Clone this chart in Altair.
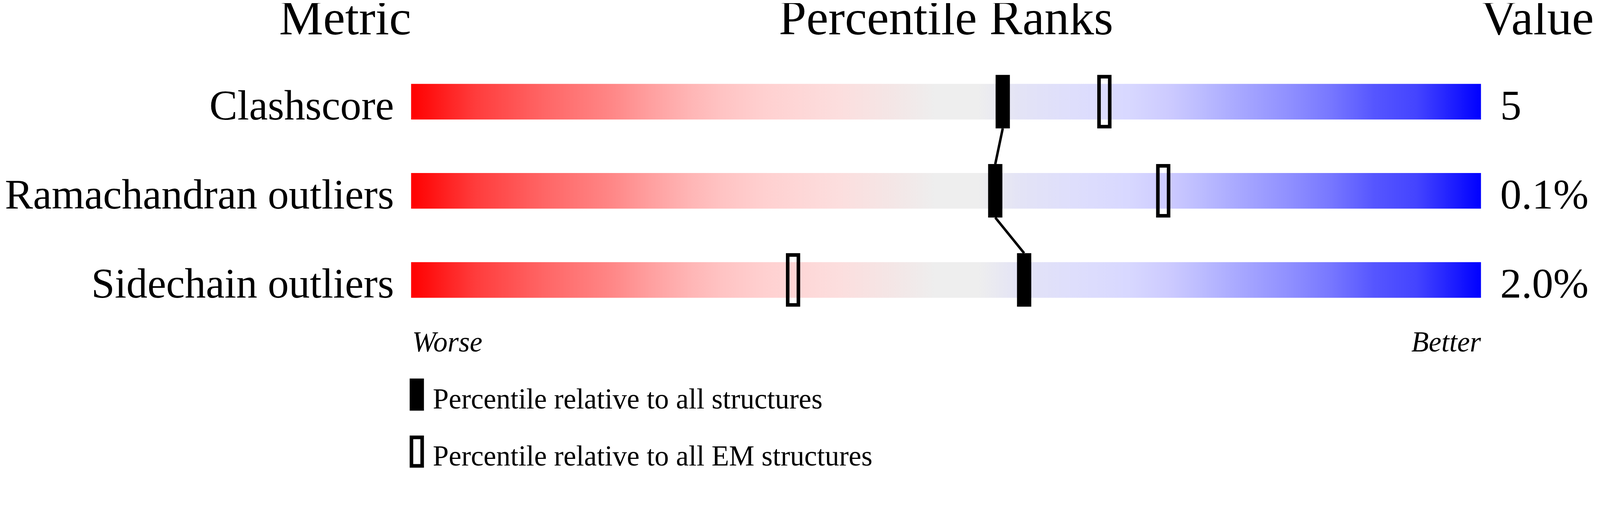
import altair as alt
import pandas as pd

# ---- data ----
metrics = ["Clashscore", "Ramachandran outliers", "Sidechain outliers"]
values = ["5", "0.1%", "2.0%"]
pct_all = [55.3, 54.6, 57.3]      # percentile relative to all structures
pct_em = [64.8, 70.3, 35.7]       # percentile relative to all EM structures
headers = ["Metric", "Percentile Ranks", "Value"]
scale_ends = ["Worse", "Better"]
legend_labels = ["Percentile relative to all structures",
                 "Percentile relative to all EM structures"]

# slider gradient (worse -> better)
grad_offsets = [0.0, 0.06, 0.125, 0.19, 0.225, 0.26, 0.29, 0.33, 0.40, 0.45, 0.49,
                0.53, 0.57, 0.62, 0.67, 0.71, 0.74, 0.77, 0.82, 0.86, 0.90, 0.94, 1.0]
grad_colors = ["#ff0000", "#ff3c3c", "#ff6666", "#ff8888", "#ffa0a0", "#ffb5b5",
               "#ffc3c3", "#ffd0d0", "#fcdede", "#f4e6e6", "#eeeeee", "#eeeeee",
               "#e3e3f6", "#dedefc", "#d8d8ff", "#cccaff", "#bbbbff", "#aaaaff",
               "#9090ff", "#7777ff", "#5656ff", "#4444ff", "#0000ff"]

FONT = "Liberation Serif"

rows = list(range(len(metrics)))
df = pd.DataFrame({"metric": metrics, "value": values, "row": rows,
                   "all": pct_all, "em": pct_em})
df["lo"] = 0
df["hi"] = 100
df["top"] = df["row"] - 0.2
df["bot"] = df["row"] + 0.2

seg = pd.DataFrame({"xa": pct_all[:-1], "xb": pct_all[1:],
                    "ya": [r + 0.3 for r in rows[:-1]],
                    "yb": [r - 0.3 for r in rows[1:]]})

H = 1235
xs = alt.Scale(domain=[0, 100], nice=False, zero=False)
ys = alt.Scale(domain=[-0.87, 4.07], reverse=True, nice=False, zero=False)

gradient = alt.Gradient(
    gradient="linear", x1=0, x2=1, y1=0, y2=0,
    stops=[alt.GradientStop(offset=o, color=c) for o, c in zip(grad_offsets, grad_colors)],
)

base = alt.Chart(df)
bars = base.mark_bar(color=gradient, strokeWidth=0).encode(
    x=alt.X("lo:Q", scale=xs, axis=None), x2="hi:Q",
    y=alt.Y("top:Q", scale=ys, axis=None), y2="bot:Q")
links = alt.Chart(seg).mark_rule(color="black", strokeWidth=7).encode(
    x=alt.X("xa:Q", scale=xs, axis=None), x2="xb:Q",
    y=alt.Y("ya:Q", scale=ys, axis=None), y2="yb:Q")
tick_all = base.mark_tick(orient="vertical", thickness=40, size=150,
                          color="black", opacity=1).encode(
    x=alt.X("all:Q", scale=xs, axis=None), y=alt.Y("row:Q", scale=ys, axis=None))
tick_em = base.mark_tick(orient="vertical", thickness=30, size=140, filled=False,
                         color="black", strokeWidth=10, opacity=1).encode(
    x=alt.X("em:Q", scale=xs, axis=None), y=alt.Y("row:Q", scale=ys, axis=None))
labels = base.mark_text(align="right", baseline="alphabetic", font=FONT,
                        fontSize=118, color="black").encode(
    x=alt.value(-48), y=alt.Y("bot:Q", scale=ys, axis=None), text="metric:N")
vals = base.mark_text(align="left", baseline="alphabetic", font=FONT,
                      fontSize=119, color="black").encode(
    x=alt.value(3054), y=alt.Y("bot:Q", scale=ys, axis=None), text="value:N")

def label(text, x, y, align, size, style="normal"):
    return alt.Chart(pd.DataFrame({"t": [text]})).mark_text(
        align=align, baseline="alphabetic", font=FONT, fontSize=size,
        fontStyle=style, color="black",
    ).encode(x=alt.value(x), y=alt.value(y), text="t:N")

head_metric = label(headers[0], -185, 29, "center", 139)
head_pct = label(headers[1], 1500, 29, "center", 139)
head_val = label(headers[2], 3000, 29, "left", 139)
worse = label(scale_ends[0], 3, 918, "left", 80, "italic")
better = label(scale_ends[1], 3000, 918, "right", 80, "italic")

leg_rect_all = alt.Chart(pd.DataFrame({"k": [0]})).mark_rect(color="black").encode(
    x=alt.value(-4), x2=alt.value(36), y=alt.value(994), y2=alt.value(1084))
leg_rect_em = alt.Chart(pd.DataFrame({"k": [0]})).mark_rect(
    filled=False, color="black", strokeWidth=10).encode(
    x=alt.value(1), x2=alt.value(31), y=alt.value(1159), y2=alt.value(1239))
leg_txt_all = label(legend_labels[0], 61, 1078, "left", 80)
leg_txt_em = label(legend_labels[1], 61, 1238, "left", 80)

chart = alt.layer(
    bars, links, tick_all, tick_em, labels, vals,
    head_metric, head_pct, head_val, worse, better,
    leg_rect_all, leg_rect_em, leg_txt_all, leg_txt_em,
).properties(
    width=3000,
    height=H,
    autosize=alt.AutoSizeParams(type="none", contains="content", resize=False),
    padding={"left": 1144, "top": 0, "right": 325, "bottom": 0},
    background="white",
).configure_view(stroke=None, clip=False)

chart.save("out.html", embed_options={"renderer": "svg", "actions": False})
